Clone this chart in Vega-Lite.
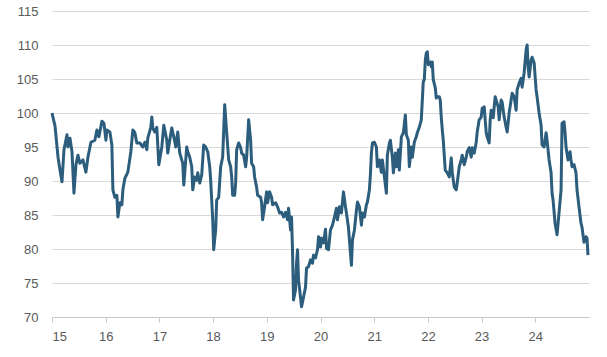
{
  "$schema": "https://vega.github.io/schema/vega-lite/v6.json",
  "autosize": {"type": "none"},
  "padding": {"left": 52, "top": 11, "right": 18, "bottom": 40},
  "width": 537,
  "height": 306,
  "background": "white",
  "config": {"view": {"stroke": null}, "font": "Liberation Sans"},
  "data": {"values": [
{"t":15.000,"v":100.0},{"t":15.056,"v":98.1},{"t":15.112,"v":93.5},{"t":15.149,"v":91.6},{"t":15.186,"v":89.9},{"t":15.223,"v":94.6},{"t":15.279,"v":96.8},{"t":15.297,"v":95.0},{"t":15.335,"v":96.3},{"t":15.372,"v":94.3},
{"t":15.409,"v":88.2},{"t":15.446,"v":92.4},{"t":15.483,"v":93.8},{"t":15.520,"v":92.6},{"t":15.576,"v":93.1},{"t":15.632,"v":91.3},{"t":15.669,"v":93.5},{"t":15.725,"v":95.7},{"t":15.799,"v":96.0},{"t":15.836,"v":97.5},
{"t":15.874,"v":96.5},{"t":15.929,"v":98.8},{"t":15.967,"v":98.5},{"t":16.004,"v":96.0},{"t":16.022,"v":97.5},{"t":16.078,"v":97.2},{"t":16.115,"v":95.3},{"t":16.134,"v":88.7},{"t":16.171,"v":87.6},{"t":16.208,"v":87.9},
{"t":16.227,"v":84.7},{"t":16.264,"v":86.8},{"t":16.301,"v":86.5},{"t":16.320,"v":88.7},{"t":16.357,"v":90.4},{"t":16.413,"v":91.3},{"t":16.468,"v":94.3},{"t":16.506,"v":97.5},{"t":16.543,"v":97.1},{"t":16.580,"v":95.6},
{"t":16.636,"v":95.6},{"t":16.691,"v":95.0},{"t":16.729,"v":95.7},{"t":16.766,"v":94.6},{"t":16.784,"v":96.3},{"t":16.840,"v":97.9},{"t":16.859,"v":99.4},{"t":16.877,"v":97.8},{"t":16.915,"v":97.2},{"t":16.952,"v":97.9},
{"t":16.989,"v":92.4},{"t":17.045,"v":95.0},{"t":17.082,"v":98.2},{"t":17.138,"v":96.0},{"t":17.156,"v":94.1},{"t":17.193,"v":96.0},{"t":17.230,"v":97.8},{"t":17.268,"v":96.5},{"t":17.305,"v":95.0},{"t":17.342,"v":97.2},
{"t":17.379,"v":94.1},{"t":17.435,"v":92.6},{"t":17.454,"v":89.4},{"t":17.472,"v":91.2},{"t":17.509,"v":95.0},{"t":17.528,"v":94.3},{"t":17.565,"v":93.5},{"t":17.602,"v":92.1},{"t":17.621,"v":88.7},{"t":17.658,"v":90.6},
{"t":17.695,"v":90.1},{"t":17.714,"v":91.2},{"t":17.751,"v":89.7},{"t":17.788,"v":90.9},{"t":17.825,"v":95.3},{"t":17.862,"v":95.0},{"t":17.900,"v":94.3},{"t":17.937,"v":92.1},{"t":17.955,"v":90.1},{"t":17.993,"v":84.3},
{"t":18.011,"v":79.9},{"t":18.048,"v":82.8},{"t":18.067,"v":87.2},{"t":18.104,"v":87.6},{"t":18.141,"v":92.1},{"t":18.178,"v":93.5},{"t":18.216,"v":101.2},{"t":18.253,"v":97.1},{"t":18.290,"v":93.1},{"t":18.327,"v":92.1},
{"t":18.346,"v":90.6},{"t":18.364,"v":87.9},{"t":18.401,"v":87.9},{"t":18.420,"v":89.7},{"t":18.439,"v":94.6},{"t":18.476,"v":95.6},{"t":18.513,"v":94.9},{"t":18.532,"v":94.1},{"t":18.569,"v":93.8},{"t":18.606,"v":92.1},
{"t":18.625,"v":93.5},{"t":18.662,"v":99.0},{"t":18.699,"v":96.0},{"t":18.717,"v":92.6},{"t":18.755,"v":92.1},{"t":18.773,"v":90.6},{"t":18.810,"v":89.1},{"t":18.829,"v":87.9},{"t":18.885,"v":87.6},{"t":18.903,"v":86.8},
{"t":18.922,"v":84.3},{"t":18.959,"v":86.2},{"t":18.996,"v":88.4},{"t":19.015,"v":86.8},{"t":19.052,"v":88.4},{"t":19.089,"v":87.6},{"t":19.108,"v":86.5},{"t":19.164,"v":86.8},{"t":19.201,"v":86.2},{"t":19.238,"v":85.3},
{"t":19.275,"v":85.4},{"t":19.312,"v":84.7},{"t":19.349,"v":85.4},{"t":19.387,"v":84.3},{"t":19.405,"v":86.0},{"t":19.442,"v":82.8},{"t":19.461,"v":84.7},{"t":19.480,"v":79.4},{"t":19.498,"v":72.5},{"t":19.535,"v":74.0},
{"t":19.554,"v":77.9},{"t":19.572,"v":79.9},{"t":19.591,"v":75.4},{"t":19.628,"v":72.9},{"t":19.647,"v":71.5},{"t":19.684,"v":72.9},{"t":19.721,"v":74.4},{"t":19.740,"v":77.2},{"t":19.777,"v":77.4},{"t":19.814,"v":78.4},
{"t":19.851,"v":77.9},{"t":19.870,"v":79.1},{"t":19.907,"v":78.7},{"t":19.944,"v":79.9},{"t":19.963,"v":81.8},{"t":20.000,"v":80.3},{"t":20.019,"v":81.6},{"t":20.056,"v":80.9},{"t":20.093,"v":82.9},{"t":20.112,"v":80.1},
{"t":20.149,"v":79.9},{"t":20.186,"v":82.8},{"t":20.223,"v":83.5},{"t":20.260,"v":84.7},{"t":20.297,"v":86.0},{"t":20.316,"v":84.3},{"t":20.353,"v":86.2},{"t":20.390,"v":85.3},{"t":20.428,"v":88.4},{"t":20.465,"v":86.2},
{"t":20.483,"v":85.3},{"t":20.520,"v":83.2},{"t":20.558,"v":79.4},{"t":20.576,"v":77.6},{"t":20.595,"v":81.3},{"t":20.632,"v":82.8},{"t":20.669,"v":85.7},{"t":20.688,"v":86.9},{"t":20.725,"v":86.2},{"t":20.762,"v":83.5},
{"t":20.781,"v":85.3},{"t":20.818,"v":84.7},{"t":20.855,"v":86.5},{"t":20.874,"v":86.9},{"t":20.911,"v":88.7},{"t":20.929,"v":90.9},{"t":20.948,"v":94.1},{"t":20.967,"v":95.6},{"t":21.004,"v":95.7},{"t":21.041,"v":95.0},
{"t":21.059,"v":92.1},{"t":21.097,"v":93.1},{"t":21.134,"v":91.3},{"t":21.152,"v":93.1},{"t":21.190,"v":90.6},{"t":21.227,"v":88.2},{"t":21.245,"v":93.8},{"t":21.283,"v":95.6},{"t":21.301,"v":96.0},{"t":21.338,"v":93.5},
{"t":21.357,"v":91.2},{"t":21.394,"v":94.1},{"t":21.413,"v":92.1},{"t":21.450,"v":94.6},{"t":21.468,"v":91.6},{"t":21.506,"v":96.5},{"t":21.543,"v":97.1},{"t":21.580,"v":99.7},{"t":21.599,"v":96.8},{"t":21.636,"v":96.0},
{"t":21.654,"v":92.1},{"t":21.692,"v":95.0},{"t":21.710,"v":93.5},{"t":21.747,"v":95.7},{"t":21.784,"v":96.5},{"t":21.803,"v":97.1},{"t":21.840,"v":97.9},{"t":21.877,"v":99.0},{"t":21.896,"v":101.9},{"t":21.914,"v":104.6},
{"t":21.933,"v":104.9},{"t":21.952,"v":107.8},{"t":21.970,"v":108.8},{"t":21.989,"v":109.0},{"t":22.007,"v":107.1},{"t":22.045,"v":107.5},{"t":22.063,"v":106.8},{"t":22.082,"v":107.5},{"t":22.100,"v":104.9},{"t":22.138,"v":103.7},
{"t":22.156,"v":102.2},{"t":22.175,"v":102.4},{"t":22.212,"v":102.4},{"t":22.230,"v":101.9},{"t":22.249,"v":99.4},{"t":22.268,"v":97.5},{"t":22.286,"v":96.0},{"t":22.323,"v":91.6},{"t":22.361,"v":91.2},{"t":22.398,"v":90.6},
{"t":22.435,"v":93.4},{"t":22.454,"v":91.2},{"t":22.491,"v":89.1},{"t":22.528,"v":88.7},{"t":22.546,"v":89.7},{"t":22.584,"v":92.1},{"t":22.621,"v":93.1},{"t":22.639,"v":93.8},{"t":22.677,"v":92.4},{"t":22.714,"v":93.5},
{"t":22.732,"v":94.3},{"t":22.770,"v":94.9},{"t":22.807,"v":93.5},{"t":22.825,"v":94.9},{"t":22.862,"v":94.1},{"t":22.900,"v":95.7},{"t":22.918,"v":97.2},{"t":22.955,"v":99.0},{"t":22.993,"v":99.4},{"t":23.011,"v":100.7},
{"t":23.048,"v":100.9},{"t":23.086,"v":97.1},{"t":23.104,"v":96.5},{"t":23.141,"v":95.6},{"t":23.160,"v":99.0},{"t":23.178,"v":100.4},{"t":23.216,"v":99.3},{"t":23.253,"v":102.4},{"t":23.271,"v":101.9},{"t":23.309,"v":100.9},
{"t":23.327,"v":99.0},{"t":23.364,"v":101.9},{"t":23.383,"v":101.6},{"t":23.420,"v":99.4},{"t":23.457,"v":97.9},{"t":23.476,"v":97.2},{"t":23.513,"v":100.0},{"t":23.550,"v":101.9},{"t":23.569,"v":102.9},{"t":23.606,"v":102.4},
{"t":23.643,"v":100.4},{"t":23.662,"v":103.4},{"t":23.699,"v":104.4},{"t":23.736,"v":105.1},{"t":23.755,"v":103.8},{"t":23.792,"v":105.9},{"t":23.829,"v":109.3},{"t":23.848,"v":110.0},{"t":23.866,"v":106.8},{"t":23.885,"v":105.3},
{"t":23.922,"v":107.8},{"t":23.941,"v":108.2},{"t":23.978,"v":107.4},{"t":24.015,"v":103.4},{"t":24.033,"v":102.4},{"t":24.071,"v":100.0},{"t":24.108,"v":98.2},{"t":24.126,"v":95.3},{"t":24.164,"v":95.0},{"t":24.201,"v":97.1},
{"t":24.219,"v":96.0},{"t":24.257,"v":93.1},{"t":24.294,"v":91.2},{"t":24.312,"v":88.2},{"t":24.331,"v":87.2},{"t":24.368,"v":83.8},{"t":24.405,"v":82.1},{"t":24.442,"v":85.3},{"t":24.480,"v":88.7},{"t":24.498,"v":98.5},
{"t":24.535,"v":98.7},{"t":24.554,"v":97.1},{"t":24.572,"v":95.0},{"t":24.610,"v":93.1},{"t":24.647,"v":94.3},{"t":24.665,"v":93.1},{"t":24.684,"v":92.1},{"t":24.721,"v":92.4},{"t":24.758,"v":91.2},{"t":24.777,"v":88.7},
{"t":24.814,"v":86.2},{"t":24.851,"v":83.8},{"t":24.870,"v":83.2},{"t":24.907,"v":81.0},{"t":24.944,"v":81.8},{"t":24.963,"v":81.6},{"t":24.981,"v":79.1}
  ]},
  "mark": {"type": "line", "color": "#2c5d7c", "strokeWidth": 3, "strokeJoin": "round"},
  "encoding": {
    "x": {
      "field": "t", "type": "quantitative",
      "scale": {"domain": [15, 25], "nice": false, "zero": false},
      "axis": {
        "title": null, "values": [15,16,17,18,19,20,21,22,23,24],
        "grid": false, "domain": true, "domainColor": "#c8c8c8", "domainWidth": 1,
        "ticks": true, "tickColor": "#c8c8c8", "tickSize": 5,
        "labelFontSize": 13, "labelColor": "#595959", "labelPadding": 8,
        "labelFont": "Liberation Sans", "format": "d"
      }
    },
    "y": {
      "field": "v", "type": "quantitative",
      "scale": {"domain": [70, 115], "nice": false, "zero": false},
      "axis": {
        "title": null, "values": [70,75,80,85,90,95,100,105,110,115],
        "domain": false, "ticks": false, "grid": true, "gridColor": "#d9d9d9", "gridWidth": 1,
        "labelFontSize": 13, "labelColor": "#595959", "labelPadding": 14,
        "labelFont": "Liberation Sans"
      }
    }
  }
}
